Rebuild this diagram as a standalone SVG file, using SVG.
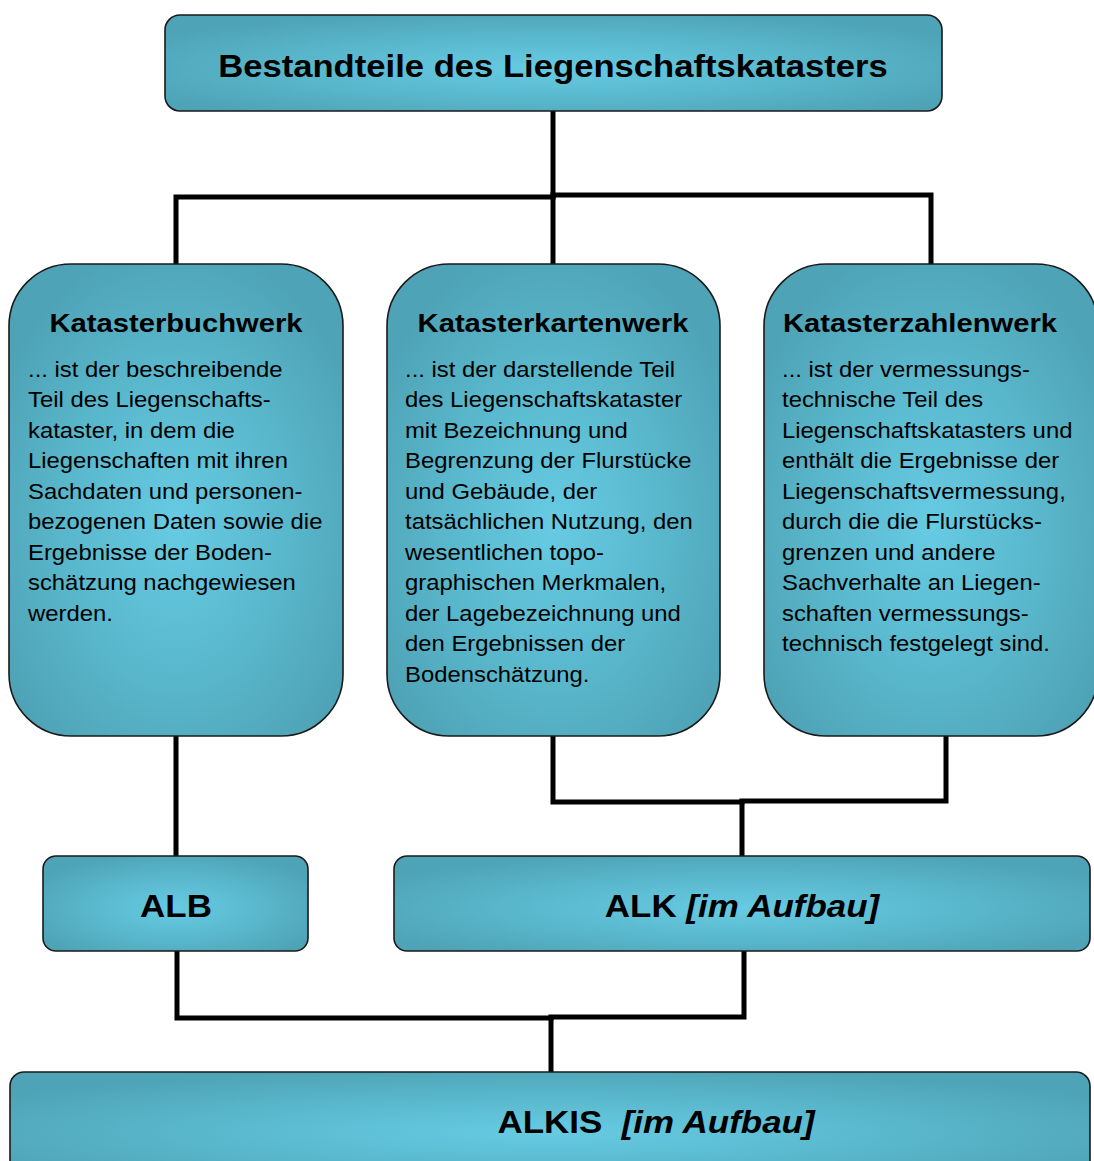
<svg xmlns="http://www.w3.org/2000/svg" width="1094" height="1161" viewBox="0 0 1094 1161">
  <defs>
    <radialGradient id="teal" cx="0.5" cy="0.55" r="0.6">
      <stop offset="0" stop-color="#66cbe3"/>
      <stop offset="0.55" stop-color="#59b7cc"/>
      <stop offset="1" stop-color="#4fa3b6"/>
    </radialGradient>
    <style>
      .box { fill: url(#teal); stroke: #1a1a1a; stroke-width: 1.6; }
      .wire { fill: none; stroke: #000; stroke-width: 5; stroke-linecap: square; }
      .title { font-family: "Liberation Sans", Arial, sans-serif; font-weight: bold; fill: #000; }
      .body { font-family: "Liberation Sans", Arial, sans-serif; font-size: 21.5px; fill: #000; }
      .it { font-style: italic; }
    </style>
  </defs>

  <!-- connectors -->
  <g id="connectors">
    <path class="wire" d="M553 112 V196"/>
    <path class="wire" d="M176 264 V197 H553 M553 195 H931 V264"/>
    <path class="wire" d="M553 196 V264"/>
    <path class="wire" d="M176 736 V856"/>
    <path class="wire" d="M553 736 V802 H742 M742 801 H946 V736"/>
    <path class="wire" d="M742 802 V856"/>
    <path class="wire" d="M177 951 V1018 H551 M551 1017 H744 V951"/>
    <path class="wire" d="M551 1018 V1072"/>
  </g>

  <!-- root -->
  <g id="root">
    <rect class="box" x="165" y="15" width="777" height="96" rx="15"/>
    <text class="title" transform="translate(553,77) scale(1.11,1)" font-size="31.2" text-anchor="middle">Bestandteile des Liegenschaftskatasters</text>
  </g>

  <!-- Katasterbuchwerk -->
  <g id="buchwerk">
    <rect class="box" x="9" y="264" width="334" height="472" rx="62"/>
    <text class="title" transform="translate(176,332) scale(1.11,1)" font-size="26.3" text-anchor="middle">Katasterbuchwerk</text>
    <text class="body" transform="translate(28,0) scale(1.11,1)">
      <tspan x="0" y="377">... ist der beschreibende</tspan>
      <tspan x="0" y="407.5">Teil des Liegenschafts-</tspan>
      <tspan x="0" y="438">kataster, in dem die</tspan>
      <tspan x="0" y="468.5">Liegenschaften mit ihren</tspan>
      <tspan x="0" y="499">Sachdaten und personen-</tspan>
      <tspan x="0" y="529.5">bezogenen Daten sowie die</tspan>
      <tspan x="0" y="560">Ergebnisse der Boden-</tspan>
      <tspan x="0" y="590.5">schätzung nachgewiesen</tspan>
      <tspan x="0" y="621">werden.</tspan>
    </text>
  </g>

  <!-- Katasterkartenwerk -->
  <g id="kartenwerk">
    <rect class="box" x="387" y="264" width="333" height="472" rx="62"/>
    <text class="title" transform="translate(553,332) scale(1.11,1)" font-size="26.3" text-anchor="middle">Katasterkartenwerk</text>
    <text class="body" transform="translate(405,0) scale(1.11,1)">
      <tspan x="0" y="377">... ist der darstellende Teil</tspan>
      <tspan x="0" y="407.5">des Liegenschaftskataster</tspan>
      <tspan x="0" y="438">mit Bezeichnung und</tspan>
      <tspan x="0" y="468.5">Begrenzung der Flurstücke</tspan>
      <tspan x="0" y="499">und Gebäude, der</tspan>
      <tspan x="0" y="529.5">tatsächlichen Nutzung, den</tspan>
      <tspan x="0" y="560">wesentlichen topo-</tspan>
      <tspan x="0" y="590.5">graphischen Merkmalen,</tspan>
      <tspan x="0" y="621">der Lagebezeichnung und</tspan>
      <tspan x="0" y="651.5">den Ergebnissen der</tspan>
      <tspan x="0" y="682">Bodenschätzung.</tspan>
    </text>
  </g>

  <!-- Katasterzahlenwerk -->
  <g id="zahlenwerk">
    <rect class="box" x="764" y="264" width="334" height="472" rx="62"/>
    <text class="title" transform="translate(920,332) scale(1.11,1)" font-size="26.3" text-anchor="middle">Katasterzahlenwerk</text>
    <text class="body" transform="translate(782,0) scale(1.11,1)">
      <tspan x="0" y="377">... ist der vermessungs-</tspan>
      <tspan x="0" y="407.5">technische Teil des</tspan>
      <tspan x="0" y="438">Liegenschaftskatasters und</tspan>
      <tspan x="0" y="468.5">enthält die Ergebnisse der</tspan>
      <tspan x="0" y="499">Liegenschaftsvermessung,</tspan>
      <tspan x="0" y="529.5">durch die die Flurstücks-</tspan>
      <tspan x="0" y="560">grenzen und andere</tspan>
      <tspan x="0" y="590.5">Sachverhalte an Liegen-</tspan>
      <tspan x="0" y="621">schaften vermessungs-</tspan>
      <tspan x="0" y="651.5">technisch festgelegt sind.</tspan>
    </text>
  </g>

  <!-- ALB -->
  <g id="alb">
    <rect class="box" x="43" y="856" width="265" height="95" rx="13"/>
    <text class="title" transform="translate(176,917) scale(1.11,1)" font-size="31.5" text-anchor="middle">ALB</text>
  </g>

  <!-- ALK -->
  <g id="alk">
    <rect class="box" x="394" y="856" width="696" height="95" rx="13"/>
    <text class="title" transform="translate(742,917) scale(1.11,1)" font-size="31.5" text-anchor="middle">ALK <tspan class="it">[im Aufbau]</tspan></text>
  </g>

  <!-- ALKIS -->
  <g id="alkis">
    <rect class="box" x="10" y="1072" width="1080" height="110" rx="14"/>
    <text class="title" transform="translate(656,1133) scale(1.11,1)" font-size="31.5" text-anchor="middle" xml:space="preserve">ALKIS  <tspan class="it">[im Aufbau]</tspan></text>
  </g>
</svg>
